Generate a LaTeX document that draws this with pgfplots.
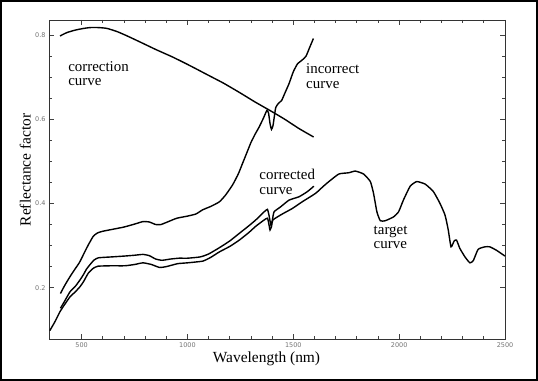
\documentclass[border=0pt]{standalone}
\usepackage{fontspec}
\setmainfont{Liberation Serif}
\setsansfont{DejaVu Sans}
\usepackage{pgfplots}
\usetikzlibrary{calc}
\pgfplotsset{compat=1.18}
\begin{document}
\begin{tikzpicture}
\begin{axis}[
  scale only axis, width=456bp, height=319bp,
  xmin=346, xmax=2500, ymin=0.078, ymax=0.836,
  xtick={500,1000,1500,2000,2500}, minor x tick num=4,
  ytick={0.2,0.4,0.6,0.8}, minor y tick num=3,
  tick align=inside,
  major tick length=5bp, minor tick length=3bp,
  axis line style={black!80, line width=0.8bp},
  every tick/.style={black!75, line width=0.8bp},
  /pgf/number format/assume math mode=true,
  /pgf/number format/1000 sep={},
  yticklabel style={/pgf/number format/fixed,/pgf/number format/precision=1},
  tick label style={font=\sffamily\fontsize{6.5}{7}\selectfont, text=black!55},
  xlabel={Wavelength (nm)}, ylabel={Reflectance factor},
  every axis x label/.style={at={(axis description cs:0.477,-0.062)}, anchor=center, font=\fontsize{15.5}{17}\selectfont},
  every axis y label/.style={at={(axis description cs:-0.052,0.53)}, rotate=90, anchor=center, font=\fontsize{15.5}{17}\selectfont},
  clip=false,
]
% correction curve
\addplot[black, line width=1.4bp, smooth, tension=0.3] coordinates {
(398,0.798)(430,0.806)(470,0.812)(510,0.816)(540,0.818)(580,0.818)(620,0.816)(670,0.808)(720,0.797)(775,0.784)(850,0.766)(930,0.748)(1010,0.728)(1090,0.707)(1170,0.686)(1245,0.664)(1320,0.641)(1400,0.618)(1460,0.600)(1527,0.578)(1596,0.558)
};
% incorrect curve
\addplot[black, line width=1.4bp, smooth, tension=0.3] coordinates {
(400,0.186)(420,0.205)(445,0.226)(470,0.245)(490,0.260)(510,0.280)(530,0.300)(555,0.322)(575,0.330)(600,0.334)(650,0.339)(700,0.344)(750,0.351)(790,0.357)(820,0.356)(850,0.350)(875,0.350)(910,0.357)(950,0.365)(1000,0.370)(1040,0.375)(1072,0.385)(1110,0.393)(1151,0.404)(1180,0.420)(1213,0.444)(1240,0.470)(1260,0.495)(1280,0.520)(1300,0.545)(1320,0.565)(1339,0.582)(1360,0.604)(1375,0.621)(1383,0.615)(1390,0.590)(1397,0.576)(1404,0.585)(1410,0.605)(1417,0.628)(1430,0.638)(1445,0.645)(1460,0.662)(1480,0.685)(1500,0.713)(1520,0.732)(1540,0.740)(1560,0.750)(1575,0.768)(1595,0.792)
};
% corrected curve
\addplot[black, line width=1.4bp, smooth, tension=0.3] coordinates {
(400,0.151)(420,0.168)(445,0.190)(470,0.203)(492,0.218)(510,0.232)(523,0.244)(545,0.258)(560,0.266)(580,0.271)(640,0.273)(700,0.275)(750,0.277)(790,0.279)(820,0.276)(850,0.268)(880,0.265)(920,0.268)(960,0.270)(1000,0.270)(1060,0.273)(1100,0.280)(1151,0.295)(1200,0.311)(1245,0.329)(1290,0.347)(1323,0.361)(1362,0.380)(1378,0.386)(1386,0.370)(1394,0.349)(1401,0.360)(1409,0.380)(1440,0.392)(1480,0.408)(1527,0.416)(1566,0.428)(1597,0.441)
};
% target curve
\addplot[black, line width=1.4bp, smooth, tension=0.3] coordinates {
(350,0.098)(375,0.120)(398,0.143)(420,0.160)(445,0.178)(470,0.190)(492,0.202)(510,0.215)(531,0.234)(555,0.246)(578,0.251)(640,0.252)(704,0.252)(750,0.255)(790,0.259)(830,0.255)(868,0.248)(900,0.250)(954,0.257)(1000,0.259)(1072,0.263)(1110,0.272)(1151,0.285)(1200,0.298)(1245,0.313)(1290,0.331)(1323,0.346)(1360,0.360)(1378,0.365)(1385,0.350)(1390,0.337)(1397,0.345)(1404,0.361)(1448,0.375)(1495,0.388)(1542,0.404)(1605,0.424)(1640,0.440)(1668,0.452)(1715,0.470)(1762,0.473)(1793,0.477)(1832,0.470)(1864,0.452)(1879,0.424)(1895,0.380)(1911,0.359)(1934,0.359)(1973,0.368)(1997,0.380)(2020,0.408)(2052,0.441)(2083,0.452)(2123,0.446)(2162,0.428)(2193,0.400)(2217,0.372)(2232,0.337)(2245,0.297)(2260,0.311)(2271,0.313)(2287,0.293)(2311,0.273)(2334,0.259)(2350,0.264)(2373,0.291)(2405,0.297)(2428,0.297)(2459,0.289)(2500,0.275)
};
\begin{scope}[every node/.style={font=\fontsize{15}{14.5}\selectfont, align=left, anchor=north west, inner sep=0pt}]
\node at (axis cs:436,0.738) {correction\\curve};
\node at (axis cs:1560,0.732) {incorrect\\curve};
\node at (axis cs:1339,0.481) {corrected\\curve};
\node at (axis cs:1879,0.347) {target\\curve};
\end{scope}
\end{axis}
\draw[black, line width=2bp] ($(current axis.south west)+(-48bp,-41bp)$) rectangle ($(current axis.north east)+(32bp,19bp)$);
\end{tikzpicture}
\end{document}
